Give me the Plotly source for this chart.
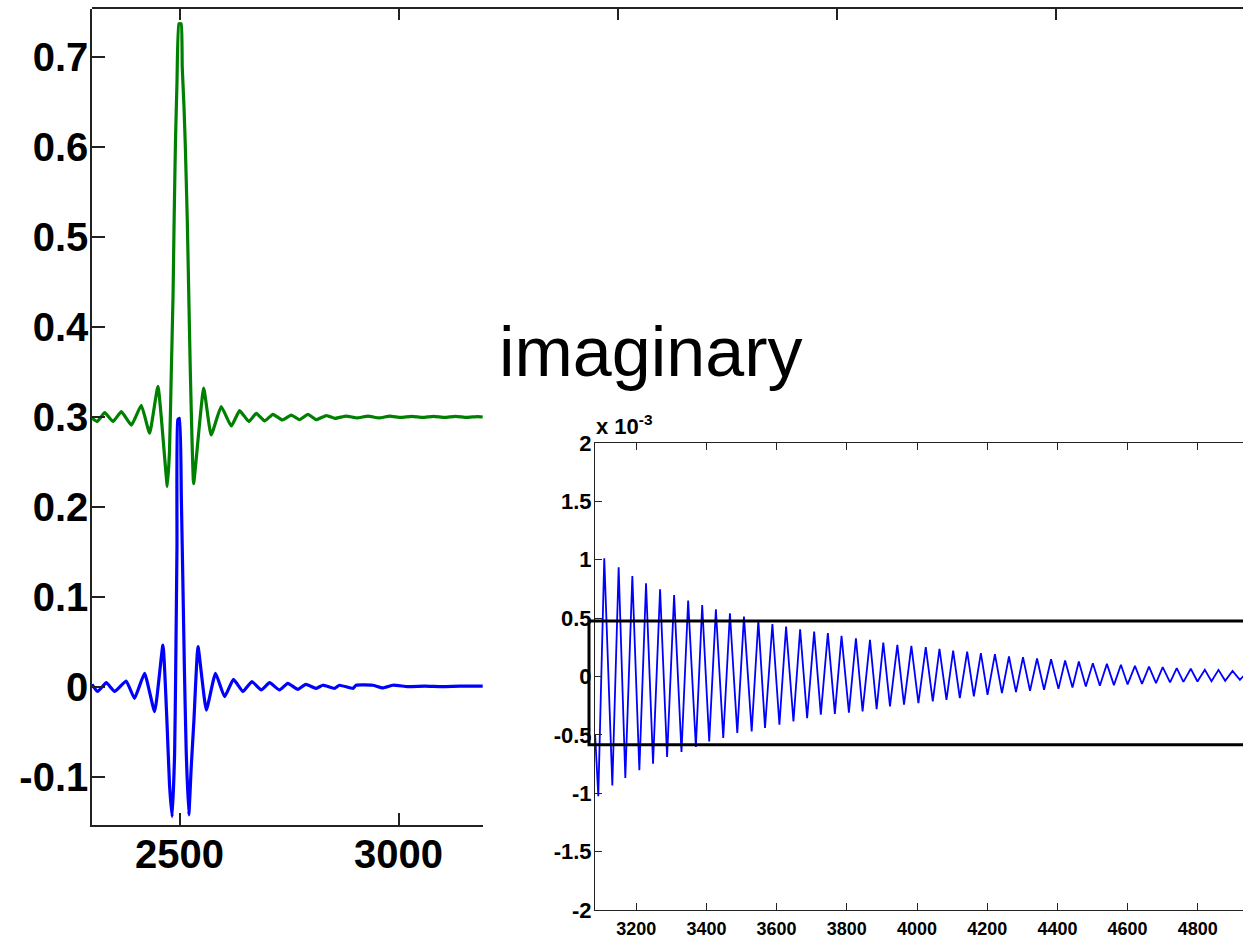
import plotly.graph_objects as go

W, H = 1243, 938
FONT = "Liberation Sans, Arial, Helvetica, sans-serif"

# ---------------- data ----------------
green_x = [2300, 2312, 2329, 2348, 2367, 2390, 2412.5, 2431.5, 2450.5, 2472,
           2477, 2481, 2485, 2487.5, 2490.5, 2494, 2498.5, 2503.5, 2506, 2510,
           2513, 2517.5, 2521, 2524.5, 2529, 2532, 2555, 2572, 2595, 2618,
           2637, 2658, 2675, 2694, 2713, 2734, 2755, 2774, 2793, 2812,
           2835, 2855, 2880, 2905, 2930, 2955, 2980, 3005, 3030, 3055,
           3080, 3105, 3130, 3155, 3180, 3192]
green_y = [0.299, 0.295, 0.305, 0.295, 0.306, 0.291, 0.313, 0.282, 0.334, 0.223,
           0.263, 0.349, 0.434, 0.519, 0.604, 0.671, 0.737, 0.737, 0.689, 0.645,
           0.602, 0.519, 0.434, 0.350, 0.263, 0.226, 0.332, 0.280, 0.3115, 0.290,
           0.307, 0.295, 0.304, 0.2956, 0.303, 0.2967, 0.302, 0.297, 0.303, 0.297,
           0.3015, 0.2985, 0.301, 0.299, 0.301, 0.299, 0.301, 0.2995, 0.3008, 0.2995,
           0.3008, 0.2995, 0.3008, 0.2995, 0.3005, 0.300]

blue_x = [2300, 2313, 2332.6, 2351.6, 2378, 2397, 2420, 2443, 2462, 2471,
          2477, 2483, 2488.6, 2491, 2494, 2496, 2500, 2504, 2507.6, 2511,
          2515, 2521, 2526.6, 2532.7, 2542, 2561, 2582, 2602.7, 2623, 2644.6,
          2665, 2686.5, 2705.5, 2728, 2747, 2770, 2788, 2812, 2827, 2854,
          2865, 2896, 2903, 2941, 2964, 2987, 3020, 3060, 3100, 3140, 3192]
blue_y = [0.003, -0.005, 0.0048, -0.005, 0.0067, -0.0126, 0.0152, -0.0274, 0.0467, -0.037,
          -0.109, -0.144, -0.074, 0.015, 0.156, 0.297, 0.2985, 0.21, 0.113, 0.019,
          -0.07, -0.142, -0.0885, -0.037, 0.0448, -0.0256, 0.0152, -0.0107, 0.0085, -0.005,
          0.006, -0.0033, 0.0048, -0.0033, 0.0041, -0.0026, 0.003, -0.0015, 0.002, -0.0015,
          0.002, -0.0015, 0.002, 0.002, -0.001, 0.002, 0.0005, 0.001, 0.0005, 0.001, 0.001]

left_xticks = [2500, 3000]
left_yticks = [-0.1, 0, 0.1, 0.2, 0.3, 0.4, 0.5, 0.6, 0.7]
left_ytext = ["-0.1", "0", "0.1", "0.2", "0.3", "0.4", "0.5", "0.6", "0.7"]
top_xticks = [2500, 3000, 3500, 4000, 4500]

# inset signal, values in units of 1e-3
inset_x = [3083, 3092, 3109, 3132, 3150, 3169, 3189, 3209, 3228, 3248,
           3268, 3288, 3308, 3329, 3348, 3370, 3388, 3408, 3427, 3448,
           3467, 3488, 3507, 3529, 3548, 3567, 3588, 3608, 3627, 3648,
           3667, 3687, 3707, 3726, 3746, 3766, 3785, 3806, 3826, 3845,
           3866, 3885, 3904, 3923, 3944, 3963, 3984, 4004, 4025, 4045,
           4064, 4084, 4103, 4122, 4143, 4162, 4182, 4201, 4222, 4242,
           4262, 4282, 4302, 4322, 4342, 4362, 4382, 4403, 4422, 4443,
           4461, 4481, 4501, 4521, 4541, 4561, 4581, 4600, 4621, 4641,
           4661, 4681, 4700, 4721, 4740, 4759, 4780, 4799, 4820, 4839,
           4859, 4878, 4899, 4920, 4935]
inset_y = [-0.50, -1.026, 1.012, -0.934, 0.935, -0.869, 0.861, -0.803, 0.798, -0.746,
           0.747, -0.689, 0.698, -0.646, 0.650, -0.604, 0.613, -0.556, 0.576, -0.527,
           0.542, -0.484, 0.513, -0.470, 0.480, -0.441, 0.450, -0.413, 0.427, -0.385,
           0.405, -0.356, 0.385, -0.327, 0.371, -0.320, 0.348, -0.310, 0.328, -0.299,
           0.314, -0.279, 0.291, -0.256, 0.271, -0.242, 0.262, -0.228, 0.251, -0.214,
           0.237, -0.200, 0.222, -0.185, 0.214, -0.171, 0.200, -0.157, 0.191, -0.143,
           0.171, -0.134, 0.165, -0.123, 0.154, -0.114, 0.148, -0.106, 0.137, -0.094,
           0.128, -0.086, 0.114, -0.080, 0.108, -0.074, 0.100, -0.068, 0.091, -0.063,
           0.085, -0.057, 0.080, -0.051, 0.071, -0.046, 0.066, -0.043, 0.057, -0.040,
           0.057, -0.037, 0.048, -0.028, 0.020]
box_top = 0.476
box_bottom = -0.585

inset_xticks = [3200, 3400, 3600, 3800, 4000, 4200, 4400, 4600, 4800]
inset_yticks = [-2, -1.5, -1, -0.5, 0, 0.5, 1, 1.5, 2]
inset_ytext = ["-2", "-1.5", "-1", "-0.5", "0", "0.5", "1", "1.5", "2"]

# ---------------- layout geometry ----------------
L_left, L_right, L_top, L_bot = 92, 483, 9, 825
I_left, I_top, I_bot = 595, 443, 910
AX = "#222222"

fig = go.Figure()
fig.add_trace(go.Scatter(x=green_x, y=green_y, mode="lines",
                         line=dict(color="rgb(0,128,0)", width=3.2, shape="spline", smoothing=0.4),
                         xaxis="x", yaxis="y", showlegend=False))
fig.add_trace(go.Scatter(x=blue_x, y=blue_y, mode="lines",
                         line=dict(color="rgb(0,0,255)", width=3.2, shape="spline", smoothing=0.4),
                         xaxis="x", yaxis="y", showlegend=False))
fig.add_trace(go.Scatter(x=inset_x, y=inset_y, mode="lines",
                         line=dict(color="rgb(0,0,255)", width=1.8),
                         xaxis="x2", yaxis="y2", showlegend=False))
# empty trace to hold the full-width top frame of the left axes
fig.add_trace(go.Scatter(x=[None], y=[None], mode="lines",
                         xaxis="x3", yaxis="y3", showlegend=False, hoverinfo="skip"))

lx0 = 2300
scale_l = 0.438
big = dict(family=FONT, size=40, color="black", weight="bold")
small_x = dict(family=FONT, size=18, color="black", weight="bold")
small_y = dict(family=FONT, size=22, color="black", weight="bold")

fig.update_layout(
    width=W, height=H, autosize=False,
    margin=dict(l=0, r=0, t=0, b=0, pad=0, autoexpand=False),
    paper_bgcolor="white", plot_bgcolor="rgba(0,0,0,0)",
    showlegend=False,
    xaxis=dict(domain=[L_left / W, L_right / W], anchor="y", automargin=False,
               range=[lx0, lx0 + (L_right - L_left) / scale_l],
               tickvals=left_xticks, ticktext=[str(v) for v in left_xticks],
               ticks="inside", ticklen=12, tickwidth=1.5, tickcolor=AX,
               showline=True, linecolor=AX, linewidth=1.5, mirror=False,
               showgrid=False, zeroline=False, tickfont=big, ticklabelstandoff=-7),
    yaxis=dict(domain=[1 - L_bot / H, 1 - L_top / H], anchor="x", automargin=False,
               range=[-0.1533, 0.7533],
               tickvals=left_yticks, ticktext=left_ytext,
               ticks="inside", ticklen=13, tickwidth=1.5, tickcolor=AX,
               showline=True, linecolor=AX, linewidth=1.5, mirror=False,
               showgrid=False, zeroline=False, tickfont=big, ticklabelstandoff=-6),
    xaxis3=dict(domain=[L_left / W, 1], anchor="y3", side="top", automargin=False,
                range=[lx0, lx0 + (W - L_left) / scale_l],
                tickvals=top_xticks, showticklabels=False,
                ticks="inside", ticklen=11, tickwidth=1.5, tickcolor=AX,
                showline=True, linecolor=AX, linewidth=1.5,
                showgrid=False, zeroline=False),
    yaxis3=dict(domain=[1 - L_bot / H, 1 - L_top / H], anchor="x3", automargin=False,
                range=[-0.1533, 0.7533], visible=False),
    xaxis2=dict(domain=[I_left / W, 1], anchor="y2", automargin=False,
                range=[3200 - (636.2 - I_left) / 0.351, 3200 + (W - 636.2) / 0.351],
                tickvals=inset_xticks, ticktext=[str(v) for v in inset_xticks],
                ticks="inside", ticklen=7, tickwidth=1, tickcolor=AX,
                showline=True, linecolor=AX, linewidth=1, mirror="ticks",
                showgrid=False, zeroline=False, tickfont=small_x, ticklabelstandoff=2),
    yaxis2=dict(domain=[1 - I_bot / H, 1 - I_top / H], anchor="x2", automargin=False,
                range=[-2, 2],
                tickvals=inset_yticks, ticktext=inset_ytext,
                ticks="inside", ticklen=7, tickwidth=1, tickcolor=AX,
                showline=True, linecolor=AX, linewidth=1, mirror=False,
                showgrid=False, zeroline=False, tickfont=small_y, ticklabelstandoff=-2),
)

# rectangle (threshold box) on the inset
fig.add_shape(type="rect", xref="paper", yref="y2",
              x0=589 / W, x1=1.02, y0=box_bottom, y1=box_top,
              line=dict(color="black", width=3), fillcolor="rgba(0,0,0,0)",
              layer="above")

fig.add_annotation(text="imaginary", xref="paper", yref="paper",
                   x=650 / W, y=1 - 352 / H, xanchor="center", yanchor="middle",
                   showarrow=False, font=dict(family=FONT, size=70, color="black"))
fig.add_annotation(text="x 10<sup>-3</sup>", xref="paper", yref="paper",
                   x=594 / W, y=1 - 441 / H, xanchor="left", yanchor="bottom",
                   showarrow=False,
                   font=dict(family=FONT, size=22, color="black", weight="bold"))

fig.write_html("out.html")
